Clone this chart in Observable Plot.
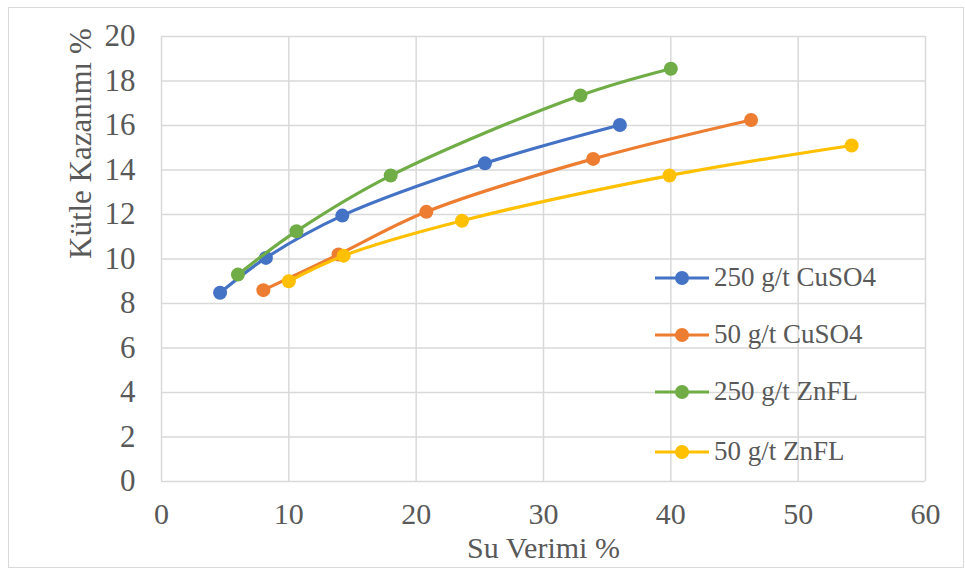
<!DOCTYPE html>
<html>
<head>
<meta charset="utf-8">
<script src="https://cdn.jsdelivr.net/npm/d3@7"></script>
<script src="https://cdn.jsdelivr.net/npm/@observablehq/plot@0.6"></script>
<style>
  html, body { margin: 0; padding: 0; background: #fff; }
  #wrap { position: relative; width: 965px; height: 570px; }
  #border { position: absolute; left: 8px; top: 7px; width: 954px; height: 559px; border: 1.5px solid #d9d9d9; pointer-events: none; }
  #legend { position: absolute; left: 655px; top: 0; font-family: "Liberation Serif", "Times New Roman", serif; font-size: 27px; color: #595959; }
  .item { position: absolute; left: 0; display: flex; align-items: center; white-space: nowrap; }
  .item svg { margin-right: 5px; }
</style>
</head>
<body>
<div id="wrap">
  <div id="chart"></div>
  <div id="legend"></div>
  <div id="border"></div>
</div>
<script>
const seriesNames = ["250 g/t CuSO4", "50 g/t CuSO4", "250 g/t ZnFL", "50 g/t ZnFL"];
const seriesColors = ["#4472C4", "#ED7D31", "#70AD47", "#FFC000"];

const x250CuSO4 = [4.6, 8.2, 14.2, 25.4, 36.0];
const y250CuSO4 = [8.48, 10.05, 11.95, 14.3, 16.02];
const x50CuSO4 = [8.0, 13.9, 20.8, 33.9, 46.3];
const y50CuSO4 = [8.6, 10.2, 12.12, 14.5, 16.25];
const x250ZnFL = [6.0, 10.6, 18.0, 32.9, 40.0];
const y250ZnFL = [9.3, 11.25, 13.75, 17.35, 18.55];
const x50ZnFL = [10.0, 14.3, 23.6, 39.9, 54.2];
const y50ZnFL = [9.0, 10.15, 11.72, 13.75, 15.1];

const xTicks = [0, 10, 20, 30, 40, 50, 60];
const yTicks = [0, 2, 4, 6, 8, 10, 12, 14, 16, 18, 20];
const xTitle = "Su Verimi %";
const yTitle = "Kütle Kazanımı %";

const xs = [x250CuSO4, x50CuSO4, x250ZnFL, x50ZnFL];
const ys = [y250CuSO4, y50CuSO4, y250ZnFL, y50ZnFL];
const data = [];
seriesNames.forEach((s, i) => xs[i].forEach((x, j) => data.push({series: s, x, y: ys[i][j]})));

const font = '"Liberation Serif", "Times New Roman", serif';
const textColor = "#595959";
const grid = "#d9d9d9";

const marks = [
  Plot.ruleY(yTicks, {stroke: grid, strokeWidth: 1.5}),
  Plot.ruleX(xTicks, {stroke: grid, strokeWidth: 1.5}),
  Plot.axisX({ticks: xTicks, tickSize: 0, tickPadding: 21, fontSize: 30, fill: textColor, label: null, tickFormat: d => String(d)}),
  Plot.axisY({ticks: yTicks, tickSize: 0, tickPadding: 26, fontSize: 31, fill: textColor, label: null, tickFormat: d => String(d)}),
  Plot.text([xTitle], {frameAnchor: "bottom", dy: 76, fontSize: 30, fill: textColor}),
  Plot.text([yTitle], {frameAnchor: "left", dx: -80, rotate: -90, fontSize: 31, fill: textColor})
];
seriesNames.forEach((s, i) => {
  const d = data.filter(r => r.series === s);
  marks.push(Plot.line(d, {x: "x", y: "y", stroke: seriesColors[i], strokeWidth: 3.2, curve: "catmull-rom"}));
  marks.push(Plot.dot(d, {x: "x", y: "y", fill: seriesColors[i], r: 7}));
});

const chart = Plot.plot({
  width: 965,
  height: 570,
  marginLeft: 161,
  marginRight: 40,
  marginTop: 36,
  marginBottom: 89,
  style: {fontFamily: font, color: textColor, background: "#fff"},
  x: {domain: [0, 60]},
  y: {domain: [0, 20]},
  marks
});
document.getElementById("chart").appendChild(chart);

const legend = document.getElementById("legend");
const rowTops = [278, 335, 392, 452];
seriesNames.forEach((s, i) => {
  const it = document.createElement("div");
  it.className = "item";
  it.style.top = (rowTops[i] - 16) + "px";
  it.innerHTML = `<svg width="54" height="16"><line x1="0" y1="8" x2="54" y2="8" stroke="${seriesColors[i]}" stroke-width="3.2"/><circle cx="27" cy="8" r="7" fill="${seriesColors[i]}"/></svg><span>${s}</span>`;
  legend.appendChild(it);
});
</script>
</body>
</html>
